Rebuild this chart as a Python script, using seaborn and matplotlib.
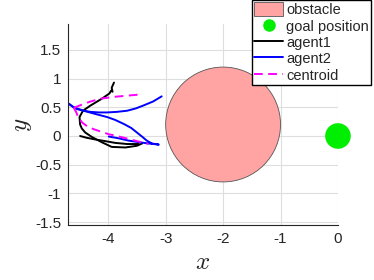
import matplotlib
matplotlib.use("Agg")
from matplotlib import pyplot as plt
from matplotlib.patches import Circle, Patch
from matplotlib.lines import Line2D
import seaborn as sns
import numpy as np

# obstacle and goal
obstacle_center = (-2.0, 0.2)
obstacle_radius = 1.0
goal_x = [0.0]
goal_y = [0.0]

# agent1 trajectories (black)
agent1_a_x = [-3.90, -3.94, -3.925, -3.95, -3.98, -4.11, -4.31, -4.44, -4.50, -4.49, -4.46, -4.40,
              -4.28, -4.11, -3.94, -3.70, -3.50, -3.41]
agent1_a_y = [0.93, 0.84, 0.77, 0.79, 0.74, 0.65, 0.53, 0.44, 0.33, 0.20, 0.13, 0.06,
              -0.02, -0.11, -0.19, -0.20, -0.17, -0.13]
agent1_b_x = [-4.49, -4.38, -4.23, -4.05, -3.88, -3.67, -3.47]
agent1_b_y = [0.00, -0.03, -0.06, -0.09, -0.12, -0.14, -0.14]

# agent2 trajectories (blue)
agent2_a_x = [-4.70, -4.62, -4.55, -4.43, -4.31, -4.16, -4.02, -3.85, -3.67, -3.52, -3.39, -3.22, -3.07]
agent2_a_y = [0.57, 0.51, 0.47, 0.44, 0.42, 0.41, 0.41, 0.42, 0.44, 0.48, 0.53, 0.60, 0.69]
agent2_b_x = [-4.70, -4.60, -4.43, -4.25, -4.02, -3.88, -3.73, -3.60, -3.50, -3.40, -3.33, -3.24, -3.12,
              -3.30, -3.45, -3.65, -3.82, -3.99]
agent2_b_y = [0.57, 0.50, 0.44, 0.39, 0.33, 0.28, 0.21, 0.14, 0.06, -0.02, -0.08, -0.13, -0.15,
              -0.13, -0.11, -0.08, -0.04, -0.01]

# centroid trajectories (magenta dashed)
centroid_a_x = [-4.60, -4.45, -4.31, -4.13, -3.91, -3.70, -3.47]
centroid_a_y = [0.49, 0.55, 0.60, 0.65, 0.68, 0.70, 0.72]
centroid_b_x = [-4.60, -4.56, -4.52, -4.45, -4.34, -4.20, -3.99, -3.85, -3.65, -3.50, -3.30]
centroid_b_y = [0.49, 0.42, 0.32, 0.23, 0.15, 0.10, 0.03, 0.00, -0.05, -0.09, -0.14]

x_ticks = [-4, -3, -2, -1, 0]
y_ticks = [-1.5, -1, -0.5, 0, 0.5, 1, 1.5]
y_tick_labels = ["-1.5", "-1", "-0.5", "0", "0.5", "1", "1.5"]

sns.set_style("whitegrid", {"grid.color": "#dedede", "axes.edgecolor": "#262626"})
plt.rcParams['font.family'] = ['Liberation Sans', 'DejaVu Sans']
plt.rcParams['mathtext.fontset'] = 'cm'

fig = plt.figure(figsize=(3.74, 2.80), dpi=100)
ax = fig.add_axes([68 / 374, 1 - 225 / 280, 270 / 374, 201 / 280])

ax.add_patch(Circle(obstacle_center, obstacle_radius, facecolor="#ffa3a3",
                    edgecolor="#555555", linewidth=0.6, zorder=1))
sns.scatterplot(x=goal_x, y=goal_y, s=340, color="#00ee00", edgecolor="none",
                clip_on=False, zorder=3, ax=ax)

line_kw = dict(sort=False, estimator=None, linewidth=1.4, legend=False, ax=ax)
for xs, ys in [(agent1_a_x, agent1_a_y), (agent1_b_x, agent1_b_y)]:
    sns.lineplot(x=xs, y=ys, color="black", **line_kw)
for xs, ys in [(agent2_a_x, agent2_a_y), (agent2_b_x, agent2_b_y)]:
    sns.lineplot(x=xs, y=ys, color="#0000ff", **line_kw)
for xs, ys in [(centroid_a_x, centroid_a_y), (centroid_b_x, centroid_b_y)]:
    sns.lineplot(x=xs, y=ys, color="#ff00ff", linestyle=(0, (4.5, 2.8)), **line_kw)

ax.set_xlim(-4.7, 0)
ax.set_ylim(-1.55, 1.95)
ax.set_aspect("equal")
ax.set_xticks(x_ticks)
ax.set_xticklabels([str(t) for t in x_ticks])
ax.set_yticks(y_ticks)
ax.set_yticklabels(y_tick_labels)
ax.tick_params(direction="in", length=3, width=0.6, colors="#262626", labelsize=11, pad=5)
for side in ["top", "right"]:
    ax.spines[side].set_visible(False)
for side in ["left", "bottom"]:
    ax.spines[side].set_linewidth(0.8)
ax.set_xlabel("$x$", fontsize=18, labelpad=3)
ax.set_ylabel("$y$", fontsize=18, labelpad=1)

handles = [Patch(facecolor="#ffa3a3", edgecolor="#555555", linewidth=0.6),
           Line2D([], [], marker="o", color="#00ee00", linestyle="none", markersize=8),
           Line2D([], [], color="black", linewidth=1.4),
           Line2D([], [], color="#0000ff", linewidth=1.4),
           Line2D([], [], color="#ff00ff", linewidth=1.4, linestyle=(0, (4.5, 2.8)))]
labels = ["obstacle", "goal position", "agent1", "agent2", "centroid"]
fig.legend(handles, labels, loc="upper right", bbox_to_anchor=(371 / 374, 1.0),
           frameon=True, fancybox=False, framealpha=1, edgecolor="black",
           fontsize=10.5, handlelength=2.0, handleheight=1.1, borderpad=0.15,
           labelspacing=0.1, handletextpad=0.2, borderaxespad=0)

fig.savefig("out.png", dpi=100)
